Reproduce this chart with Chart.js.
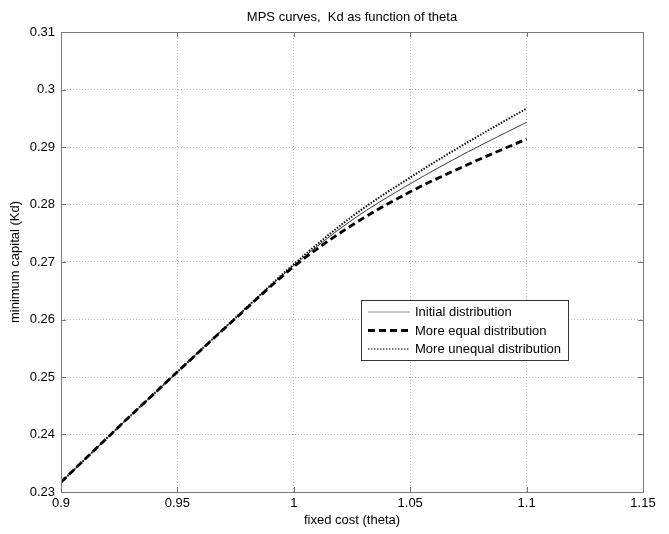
<!DOCTYPE html>
<html>
<head>
<meta charset="utf-8">
<style>
  html, body { margin: 0; padding: 0; background: #fff; }
  #c { display: block; }
</style>
<script src="https://cdn.jsdelivr.net/npm/chart.js@4.4.1/dist/chart.umd.min.js"></script>
</head>
<body>
<canvas id="c" width="669" height="534"></canvas>
<script>
// ---- data ----
const theta       = [0.9, 0.925, 0.95, 0.975, 1.0, 1.025, 1.05, 1.075, 1.1];
const initialDist = [0.2317, 0.2414, 0.2509, 0.2603, 0.2694, 0.2773, 0.2836, 0.2892, 0.2943];
const equalDist   = [0.2317, 0.2414, 0.2509, 0.2602, 0.2692, 0.2764, 0.2822, 0.2870, 0.2914];
const unequalDist = [0.2317, 0.2414, 0.2509, 0.2603, 0.2696, 0.2779, 0.2847, 0.2909, 0.2967];
const seriesNames = ['Initial distribution', 'More equal distribution', 'More unequal distribution'];
const xTickLabels = ['0.9', '0.95', '1', '1.05', '1.1', '1.15'];
const yTickLabels = ['0.23', '0.24', '0.25', '0.26', '0.27', '0.28', '0.29', '0.3', '0.31'];
const titleText = 'MPS curves,  Kd as function of theta';
const xTitle = 'fixed cost (theta)';
const yTitle = 'minimum capital (Kd)';

const FONT = '"Liberation Sans", Arial, Helvetica, sans-serif';

function pts(arr) { return theta.map((t, i) => ({ x: t, y: arr[i] })); }

const datasets = [
  { label: seriesNames[0], data: pts(initialDist), borderColor: '#3a3a3a', borderWidth: 1, borderDash: [], order: 2 },
  { label: seriesNames[1], data: pts(equalDist), borderColor: '#000', borderWidth: 2.8, borderDash: [7, 4], order: 1 },
  { label: seriesNames[2], data: pts(unequalDist), borderColor: '#000', borderWidth: 2, borderDash: [1.4, 1.6], order: 3 }
];
datasets.forEach(d => {
  d.pointRadius = 0; d.fill = false; d.cubicInterpolationMode = 'monotone';
  d.borderCapStyle = 'butt';
});

const decorPlugin = {
  id: 'decor',
  afterDraw(chart) {
    const ctx = chart.ctx;
    const a = chart.chartArea;
    const xs = chart.scales.x, ys = chart.scales.y;
    ctx.save();
    // axes box
    ctx.strokeStyle = '#7a7a7a';
    ctx.lineWidth = 1;
    ctx.setLineDash([]);
    ctx.strokeRect(Math.round(a.left) + 0.5, Math.round(a.top) + 0.5,
                   Math.round(a.right - a.left), Math.round(a.bottom - a.top));
    // inner tick marks
    const tl = 5;
    ctx.beginPath();
    xs.ticks.forEach(t => {
      const px = Math.round(xs.getPixelForValue(t.value)) + 0.5;
      ctx.moveTo(px, a.bottom); ctx.lineTo(px, a.bottom - tl);
      ctx.moveTo(px, a.top); ctx.lineTo(px, a.top + tl);
    });
    ys.ticks.forEach(t => {
      const py = Math.round(ys.getPixelForValue(t.value)) + 0.5;
      ctx.moveTo(a.left, py); ctx.lineTo(a.left + tl, py);
      ctx.moveTo(a.right, py); ctx.lineTo(a.right - tl, py);
    });
    ctx.stroke();

    // title and axis titles
    ctx.fillStyle = '#000';
    ctx.font = '13px ' + FONT;
    ctx.textAlign = 'center';
    ctx.textBaseline = 'middle';
    const cx = (a.left + a.right) / 2;
    ctx.fillText(titleText, cx, 17);
    ctx.fillText(xTitle, cx, 520);
    ctx.save();
    ctx.translate(15, (a.top + a.bottom) / 2);
    ctx.rotate(-Math.PI / 2);
    ctx.fillText(yTitle, 0, 0);
    ctx.restore();

    // legend box
    const L = 361, T = 300, R = 568, B = 360;
    ctx.fillStyle = '#fff';
    ctx.fillRect(L, T, R - L, B - T);
    ctx.strokeStyle = '#333';
    ctx.lineWidth = 1;
    ctx.strokeRect(L + 0.5, T + 0.5, R - L, B - T);
    const rows = [312, 330.5, 349];
    chart.data.datasets.forEach((d, i) => {
      const y = rows[i];
      ctx.save();
      ctx.strokeStyle = i === 0 ? '#8a8a8a' : (i === 2 ? '#777' : d.borderColor);
      ctx.lineWidth = d.borderWidth;
      ctx.setLineDash(d.borderDash);
      ctx.beginPath();
      ctx.moveTo(368, y); ctx.lineTo(410, y);
      ctx.stroke();
      ctx.restore();
      ctx.fillStyle = '#000';
      ctx.textAlign = 'left';
      ctx.textBaseline = 'middle';
      ctx.font = '13px ' + FONT;
      ctx.fillText(d.label, 415, y + 0.5);
    });
    ctx.restore();
  }
};

new Chart(document.getElementById('c'), {
  type: 'line',
  data: { datasets },
  options: {
    responsive: false,
    animation: false,
    devicePixelRatio: 1,
    layout: { padding: { top: 32, right: 26, left: 0, bottom: 0 } },
    plugins: { legend: { display: false }, title: { display: false }, tooltip: { enabled: false } },
    scales: {
      x: {
        type: 'linear', min: 0.9, max: 1.15,
        afterFit(s) { s.height = 42; },
        ticks: {
          stepSize: 0.05, padding: 4, color: '#000',
          font: { family: FONT, size: 13 },
          maxRotation: 0, autoSkip: false,
          callback: (v, i) => xTickLabels[i]
        },
        grid: { color: '#b8b8b8', lineWidth: 1, drawTicks: false, tickLength: 0 },
        border: { display: false, dash: [1, 2] }
      },
      y: {
        type: 'linear', min: 0.23, max: 0.31,
        afterFit(s) { s.width = 61; },
        ticks: {
          stepSize: 0.01, padding: 6, color: '#000',
          font: { family: FONT, size: 13 },
          autoSkip: false,
          callback: (v, i) => yTickLabels[i]
        },
        grid: { color: '#b8b8b8', lineWidth: 1, drawTicks: false, tickLength: 0 },
        border: { display: false, dash: [1, 2] }
      }
    }
  },
  plugins: [decorPlugin]
});
</script>
</body>
</html>
